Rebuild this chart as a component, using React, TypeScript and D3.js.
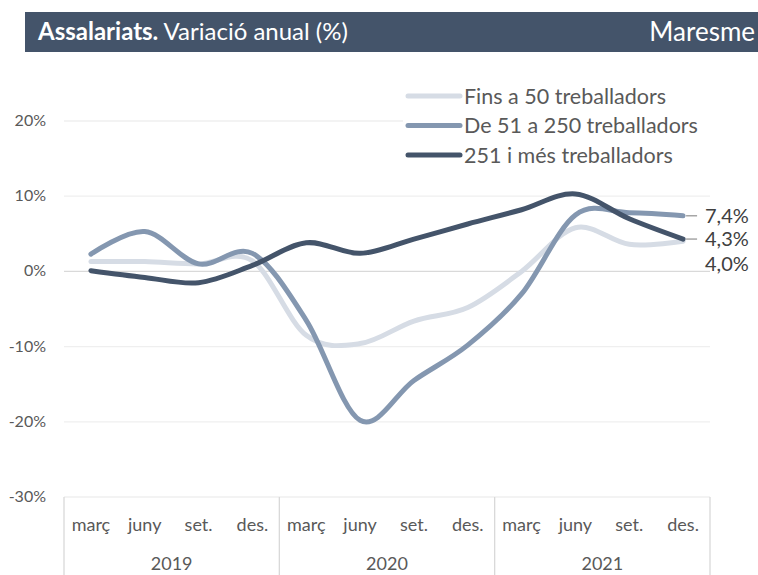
import * as d3 from "d3";

const YEARS = ["2019", "2020", "2021"];
const MONTHS = ["març", "juny", "set.", "des."];
const SERIES_NAMES = ["Fins a 50 treballadors", "De 51 a 250 treballadors", "251 i més treballadors"];
const COLORS = ["#d6dce5", "#8497b0", "#44546a"];

// variació anual (%), març 2019 .. des. 2021
const small = [1.3, 1.3, 1.0, 1.4, -8.5, -9.6, -6.6, -4.8, 0.0, 5.8, 3.6, 4.0];
const medium = [2.3, 5.3, 1.0, 2.4, -6.5, -19.8, -14.5, -9.8, -3.0, 7.5, 7.8, 7.4];
const large = [0.1, -0.8, -1.5, 0.8, 3.8, 2.4, 4.3, 6.3, 8.2, 10.3, 7.0, 4.3];

const Y_TICKS = [20, 10, 0, -10, -20, -30];
const END_LABELS = ["4,0%", "7,4%", "4,3%"];

const W = 758;
const H = 575;
const left = 64;
const right = 710;
const top = 121;
const bottom = 497;
const font = "Lato, 'Open Sans', sans-serif";

export default function App() {
  const cats = YEARS.flatMap((y) => MONTHS.map((m) => `${m}-${y}`));
  const x = d3.scaleBand<string>().domain(cats).range([left, right]);
  const y = d3.scaleLinear().domain([-30, 20]).range([bottom, top]);
  const cx = (i: number) => (x(cats[i]) ?? 0) + x.bandwidth() / 2;

  const line = d3
    .line<number>()
    .x((_, i) => cx(i))
    .y((d) => y(d))
    .curve(d3.curveCardinal.tension(0));

  const data = [small, medium, large];
  const yearW = (right - left) / YEARS.length;
  const lastX = cx(cats.length - 1);

  // label positions to the right (4,0% pushed down so it does not overlap)
  const labelY = [y(4.0) + 23, y(7.4), y(4.3)];

  return (
    <svg width={W} height={H} style={{ position: "absolute", left: 0, top: 0, background: "#fff" }}>
      <rect x={25} y={12} width={W - 25} height={40} fill="#44546a" />
      <text x={38} y={40} fill="#fff" fontFamily={font} fontSize={24}>
        <tspan fontWeight="bold">Assalariats.</tspan> Variació anual (%)
      </text>
      <text x={W - 3} y={41} fill="#fff" fontFamily={font} fontSize={26} textAnchor="end">
        Maresme
      </text>

      {Y_TICKS.map((t) => (
        <g key={t}>
          <line x1={left} x2={right} y1={y(t)} y2={y(t)} stroke={t === 0 ? "#d9d9d9" : "#efefef"} strokeWidth={1.3} />
          <text x={46} y={y(t) + 5} textAnchor="end" fontFamily={font} fontSize={16} fill="#595959">
            {t}%
          </text>
        </g>
      ))}

      {d3.range(YEARS.length + 1).map((i) => (
        <line key={i} x1={left + i * yearW} x2={left + i * yearW} y1={bottom} y2={H} stroke="#d9d9d9" strokeWidth={1.3} />
      ))}
      {cats.map((c, i) => (
        <text key={c} x={cx(i)} y={531} textAnchor="middle" fontFamily={font} fontSize={18} fill="#595959">
          {MONTHS[i % 4]}
        </text>
      ))}
      {YEARS.map((yr, i) => (
        <text key={yr} x={left + (i + 0.5) * yearW} y={570} textAnchor="middle" fontFamily={font} fontSize={18} fill="#595959">
          {yr}
        </text>
      ))}

      {data.map((d, i) => (
        <path key={i} d={line(d) ?? ""} fill="none" stroke={COLORS[i]} strokeWidth={5} strokeLinecap="round" />
      ))}

      {[1, 2].map((i) => (
        <line key={i} x1={lastX + 3} x2={lastX + 14} y1={y(data[i][11])} y2={y(data[i][11])} stroke="#a6a6a6" strokeWidth={1.5} />
      ))}
      {END_LABELS.map((l, i) => (
        <text key={l} x={705} y={labelY[i] + 7} fontFamily={font} fontSize={20} fill="#404040">
          {l}
        </text>
      ))}

      <rect x={403} y={80} width={320} height={90} fill="#fff" />
      {SERIES_NAMES.map((n, i) => (
        <g key={n} transform={`translate(0, ${96 + i * 29.5})`}>
          <line x1={408} x2={460} y1={0} y2={0} stroke={COLORS[i]} strokeWidth={5} strokeLinecap="round" />
          <text x={464} y={7.5} fontFamily={font} fontSize={21.5} fill="#595959">
            {n}
          </text>
        </g>
      ))}
    </svg>
  );
}
